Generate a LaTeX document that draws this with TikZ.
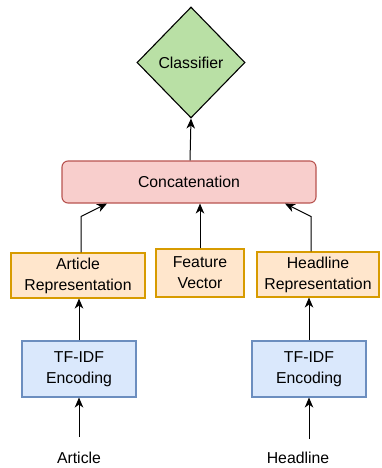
\documentclass[tikz,border=0pt]{standalone}
\usepackage{fontspec}
\setmainfont{Liberation Sans}
\usetikzlibrary{shapes.geometric,arrows.meta}
\definecolor{clsfill}{HTML}{B9E0A5}
\definecolor{catfill}{HTML}{F8CECC}
\definecolor{catline}{HTML}{B85450}
\definecolor{repfill}{HTML}{FFE6CC}
\definecolor{repline}{HTML}{D79B00}
\definecolor{encfill}{HTML}{DAE8FC}
\definecolor{encline}{HTML}{6C8EBF}
\tikzset{
  base/.style={font=\fontsize{15.8}{21}\selectfont, align=center, inner sep=0pt, line width=1.1pt},
  repbox/.style={base, rectangle, draw=repline, fill=repfill},
  encbox/.style={base, rectangle, draw=encline, fill=encfill},
  arr/.style={-{Stealth[length=10pt,width=8.5pt,inset=3pt]}, line width=1pt, black},
}
\begin{document}
\begin{tikzpicture}[x=1pt,y=-1pt]
\useasboundingbox (0,0) rectangle (382,468);
% classifier and concatenation
\node[base, diamond, draw=black, fill=clsfill, minimum width=108pt, minimum height=111pt] (cls) at (191,62.5) {Classifier};
\node[base, rectangle, rounded corners=6pt, draw=catline, fill=catfill, minimum width=254pt, minimum height=42pt] (cat) at (189,182) {Concatenation};
% representations
\node[repbox, minimum width=134pt, minimum height=45pt] (arep) at (78,275.5) {Article\\Representation};
\node[repbox, minimum width=88pt, minimum height=48pt] (fvec) at (200,273) {Feature\\Vector};
\node[repbox, minimum width=122pt, minimum height=45pt] (hrep) at (318,274.5) {Headline\\Representation};
% encoders
\node[encbox, minimum width=114pt, minimum height=56pt] (tfa) at (79,369) {TF-IDF\\Encoding};
\node[encbox, minimum width=114pt, minimum height=56pt] (tfh) at (309,369) {TF-IDF\\Encoding};
% inputs
\node[base] (art) at (79,458) {Article};
\node[base] (hl) at (298,458) {Headline};
\coordinate (ain) at (79,437);
\coordinate (hin) at (309,439);
% connectors
\draw[arr] (ain) -- (tfa.south);
\draw[arr] (hin) -- (tfh.south);
\draw[arr] (tfa.north) -- (arep.south -| tfa.north);
\draw[arr] (tfh.north) -- (hrep.south -| tfh.north);
\draw[arr] ([xshift=3pt]arep.north) -- ++(0,-36) -- ([xshift=-82pt]cat.south);
\draw[arr] (fvec.north) -- (fvec.north |- cat.south);
\draw[arr] ([xshift=-7pt]hrep.north) -- ++(0,-35) -- ([xshift=96pt]cat.south);
\draw[arr] ([xshift=1pt]cat.north) -- (cls.south);
\end{tikzpicture}
\end{document}
